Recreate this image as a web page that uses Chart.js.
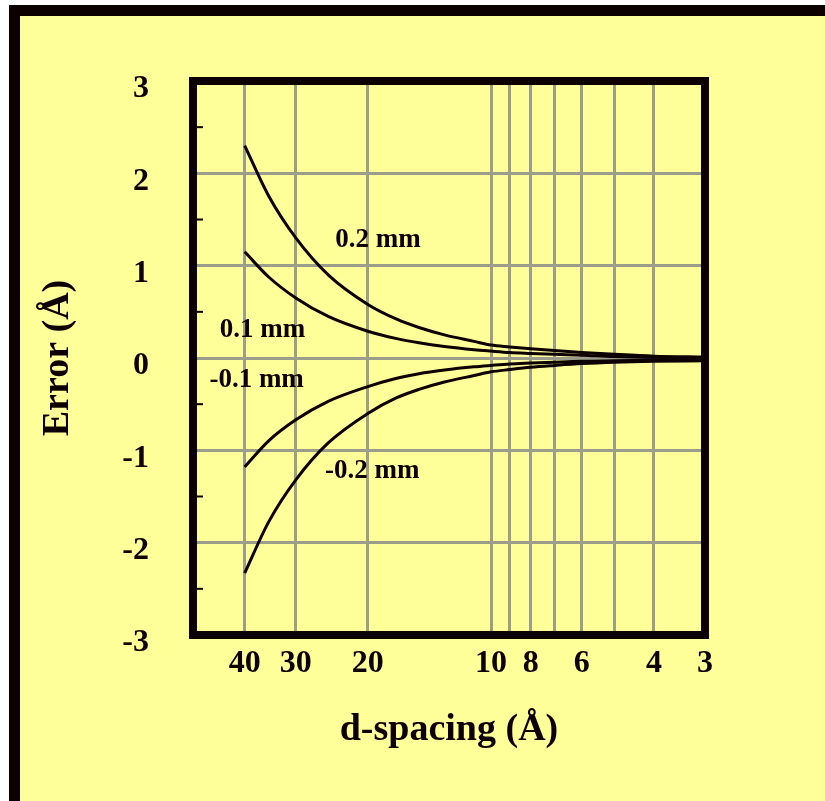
<!DOCTYPE html>
<html>
<head>
<meta charset="utf-8">
<script src="https://cdn.jsdelivr.net/npm/chart.js@4.4.1/dist/chart.umd.min.js"></script>
<style>
    body { margin: 0; background: #ffffff; }
    #frame {
        position: absolute; left: 9px; top: 5px;
        width: 805px; height: 785px;
        border-top: 11px solid #0d0000;
        border-left: 11px solid #0d0000;
        background: #ffff99;
    }
    #box { position: relative; width: 805px; height: 785px; }
</style>
</head>
<body>
<div id="frame"><div id="box"><canvas id="errChart"></canvas></div></div>
<script>
// d-spacing (Å) sampled along the curves
const dSpacing = [40, 35, 30, 25, 20, 17, 15, 13, 11, 10, 9, 8, 7, 6, 5, 4, 3];
// error (Å) for each sample displacement
const err02  = [2.3, 1.76, 1.3, 0.9, 0.58, 0.42, 0.33, 0.25, 0.18, 0.14, 0.12, 0.1, 0.08, 0.06, 0.04, 0.02, 0.01];
const err01  = [1.15, 0.88, 0.65, 0.45, 0.29, 0.21, 0.165, 0.125, 0.09, 0.075, 0.06, 0.05, 0.04, 0.03, 0.015, 0.005, 0];
const errM01 = [-1.18, -0.9, -0.67, -0.47, -0.31, -0.22, -0.17, -0.13, -0.095, -0.08, -0.065, -0.055, -0.045, -0.035, -0.03, -0.025, -0.02];
const errM02 = [-2.33, -1.78, -1.32, -0.92, -0.6, -0.43, -0.34, -0.26, -0.19, -0.15, -0.125, -0.1, -0.08, -0.06, -0.045, -0.035, -0.03];

const xTicks = [3, 4, 5, 6, 7, 8, 9, 10, 20, 30, 40];
const xLabels = [3, 4, 6, 8, 10, 20, 30, 40];
const yMinor = [2.5, 1.5, 0.5, -0.5, -1.5, -2.5];

const curveNames = ['0.2 mm', '0.1 mm', '-0.1 mm', '-0.2 mm'];
const curveNameAt = [[18.9, 1.28], [36.2, 0.3], [37.4, -0.24], [19.5, -1.22]]; // [d, error]

const INK = '#0d0000';
const GRID = '#9d9d8c';
const serif = '"Liberation Serif", "Times New Roman", serif';

const toPoints = vals => vals.map((v, i) => ({ x: dSpacing[i], y: v }));

const framePlugin = {
    id: 'frame',
    afterDatasetsDraw(chart) {
        const { ctx, chartArea: a, scales: { x, y } } = chart;
        ctx.save();
        // small half-step ticks on the left edge
        ctx.strokeStyle = INK;
        ctx.lineWidth = 2;
        yMinor.forEach(v => {
            const py = y.getPixelForValue(v);
            ctx.beginPath();
            ctx.moveTo(a.left, py);
            ctx.lineTo(a.left + 10, py);
            ctx.stroke();
        });
        // plot box
        ctx.lineWidth = 8;
        ctx.strokeRect(a.left, a.top, a.right - a.left, a.bottom - a.top);
        // curve names
        ctx.fillStyle = INK;
        ctx.font = 'bold 27px ' + serif;
        ctx.textAlign = 'center';
        ctx.textBaseline = 'middle';
        curveNames.forEach((t, i) => {
            const [d, e] = curveNameAt[i];
            ctx.fillText(t, x.getPixelForValue(d), y.getPixelForValue(e));
        });
        ctx.restore();
    }
};

const line = (vals) => ({
    data: toPoints(vals),
    borderColor: INK,
    borderWidth: 3,
    pointRadius: 0,
    cubicInterpolationMode: 'monotone',
    fill: false,
});

const ctx = document.getElementById('errChart').getContext('2d');
const errChart = new Chart(ctx, {
    type: 'line',
    data: {
        datasets: [line(err02), line(err01), line(errM01), line(errM02)]
    },
    options: {
        responsive: true,
        maintainAspectRatio: false,
        animation: false,
        layout: {
            padding: { top: 65, right: 120, bottom: 0, left: 0 }
        },
        plugins: {
            legend: { display: false },
            tooltip: { enabled: false },
        },
        scales: {
            x: {
                type: 'logarithmic',
                reverse: true,
                min: 3,
                max: 53.5,
                afterBuildTicks: scale => {
                    scale.ticks = xTicks.map(v => ({ value: v }));
                },
                afterFit: scale => { scale.height = 166; },
                grid: {
                    color: GRID,
                    lineWidth: 3,
                    drawTicks: false,
                },
                border: { display: false },
                ticks: {
                    autoSkip: false,
                    maxRotation: 0,
                    padding: 10,
                    color: INK,
                    font: { family: serif, size: 32, weight: 'bold' },
                    callback: function (value) {
                        return xLabels.includes(value) ? String(value) : '';
                    },
                },
                title: {
                    display: true,
                    text: 'd-spacing (Å)',
                    color: INK,
                    font: { family: serif, size: 38, weight: 'bold' },
                    padding: { top: 0, bottom: 48 },
                },
            },
            y: {
                min: -3,
                max: 3,
                afterFit: scale => { scale.width = 173; },
                grid: {
                    color: GRID,
                    lineWidth: 3,
                    drawTicks: false,
                },
                border: { display: false },
                ticks: {
                    stepSize: 1,
                    padding: 44,
                    labelOffset: 8,
                    color: INK,
                    font: { family: serif, size: 32, weight: 'bold' },
                },
                title: {
                    display: true,
                    text: 'Error (Å)',
                    color: INK,
                    font: { family: serif, size: 38, weight: 'bold' },
                    padding: { top: 15, bottom: 0 },
                },
            },
        },
    },
    plugins: [framePlugin],
});
</script>
</body>
</html>
